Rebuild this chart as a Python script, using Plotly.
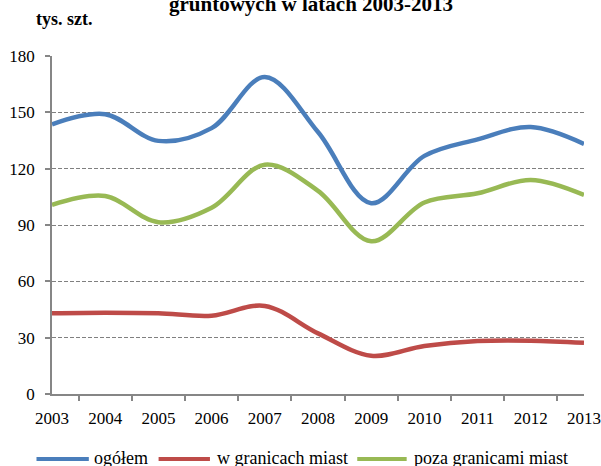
import plotly.graph_objects as go

years = ["2003", "2004", "2005", "2006", "2007", "2008", "2009", "2010", "2011", "2012", "2013"]
ogolem = [143.6, 149.0, 134.8, 141.6, 168.8, 139.5, 101.6, 126.8, 135.6, 142.2, 133.2]
w_granicach = [43.0, 43.3, 43.0, 41.7, 46.9, 32.3, 20.4, 25.6, 28.2, 28.4, 27.3]
poza_granicami = [100.7, 105.4, 91.5, 99.2, 122.1, 108.2, 81.3, 102.0, 106.9, 114.0, 106.0]
y_ticks = [0, 30, 60, 90, 120, 150, 180]

names = ["ogółem", "w granicach miast", "poza granicami miast"]
colors = ["#4A7EBB", "#BE4B48", "#98B954"]
series = [ogolem, w_granicach, poza_granicami]

W, H = 601, 466
L, R, T, B = 52, 0, 55.5, 72
pw, ph = W - L - R, H - T - B

def px2x(px):
    return (px - L) / pw

def px2y(py):
    return (H - B - py) / ph

fig = go.Figure()
for nm, col, vals in zip(names, colors, series):
    fig.add_trace(go.Scatter(x=years, y=vals, name=nm, mode="lines",
                             line=dict(color=col, width=4.5, shape="spline", smoothing=1),
                             showlegend=False, hoverinfo="skip"))

serif = "Liberation Serif"

fig.update_layout(
    width=W, height=H,
    margin=dict(l=L, r=R, t=T, b=B),
    paper_bgcolor="white", plot_bgcolor="white",
    font=dict(family=serif, size=17, color="black"),
    xaxis=dict(type="category", showgrid=False, showline=True, linecolor="#868686", linewidth=1.5,
               ticks="outside", tickson="boundaries", ticklen=5, tickcolor="#868686", tickwidth=1.5,
               tickfont=dict(family=serif, size=17, color="black"), ticklabelstandoff=8,
               fixedrange=True),
    yaxis=dict(range=[0, 180], tickvals=y_ticks, showgrid=True, gridcolor="#808080", gridwidth=1,
               griddash="4px,2px", showline=True, linecolor="#868686", linewidth=1.5, zeroline=False,
               ticks="outside", ticklen=5, tickcolor="#868686", tickwidth=1.5,
               tickfont=dict(family=serif, size=17, color="black"), ticklabelstandoff=7, fixedrange=True),
)

# title (second line visible) and unit label
fig.add_annotation(text="<b>gruntowych w latach 2003-2013</b>", xref="paper", yref="paper",
                   x=px2x(319.5), y=px2y(12), xanchor="center", yanchor="bottom", yshift=-5,
                   showarrow=False, font=dict(family=serif, size=21, color="black"))
fig.add_annotation(text="<b>tys. szt.</b>", xref="paper", yref="paper",
                   x=px2x(33), y=px2y(18.5), xanchor="left", yanchor="middle",
                   showarrow=False, font=dict(family=serif, size=18, color="black"))

# custom legend
leg_y = 459
leg_items = [(36, 90, 93), (162, 215, 220), (367, 418, 423)]
for (x0, x1, tx), nm, col in zip(leg_items, names, colors):
    fig.add_shape(type="line", xref="paper", yref="paper", x0=px2x(x0), x1=px2x(x1),
                  y0=px2y(leg_y), y1=px2y(leg_y), line=dict(color=col, width=4))
    fig.add_annotation(text=nm, xref="paper", yref="paper", x=px2x(tx), y=px2y(leg_y - 1),
                       xanchor="left", yanchor="middle", showarrow=False,
                       font=dict(family=serif, size=18, color="black"))

fig.write_html("out.html", config={"displayModeBar": False},
               post_script="document.body.style.margin='0';")
